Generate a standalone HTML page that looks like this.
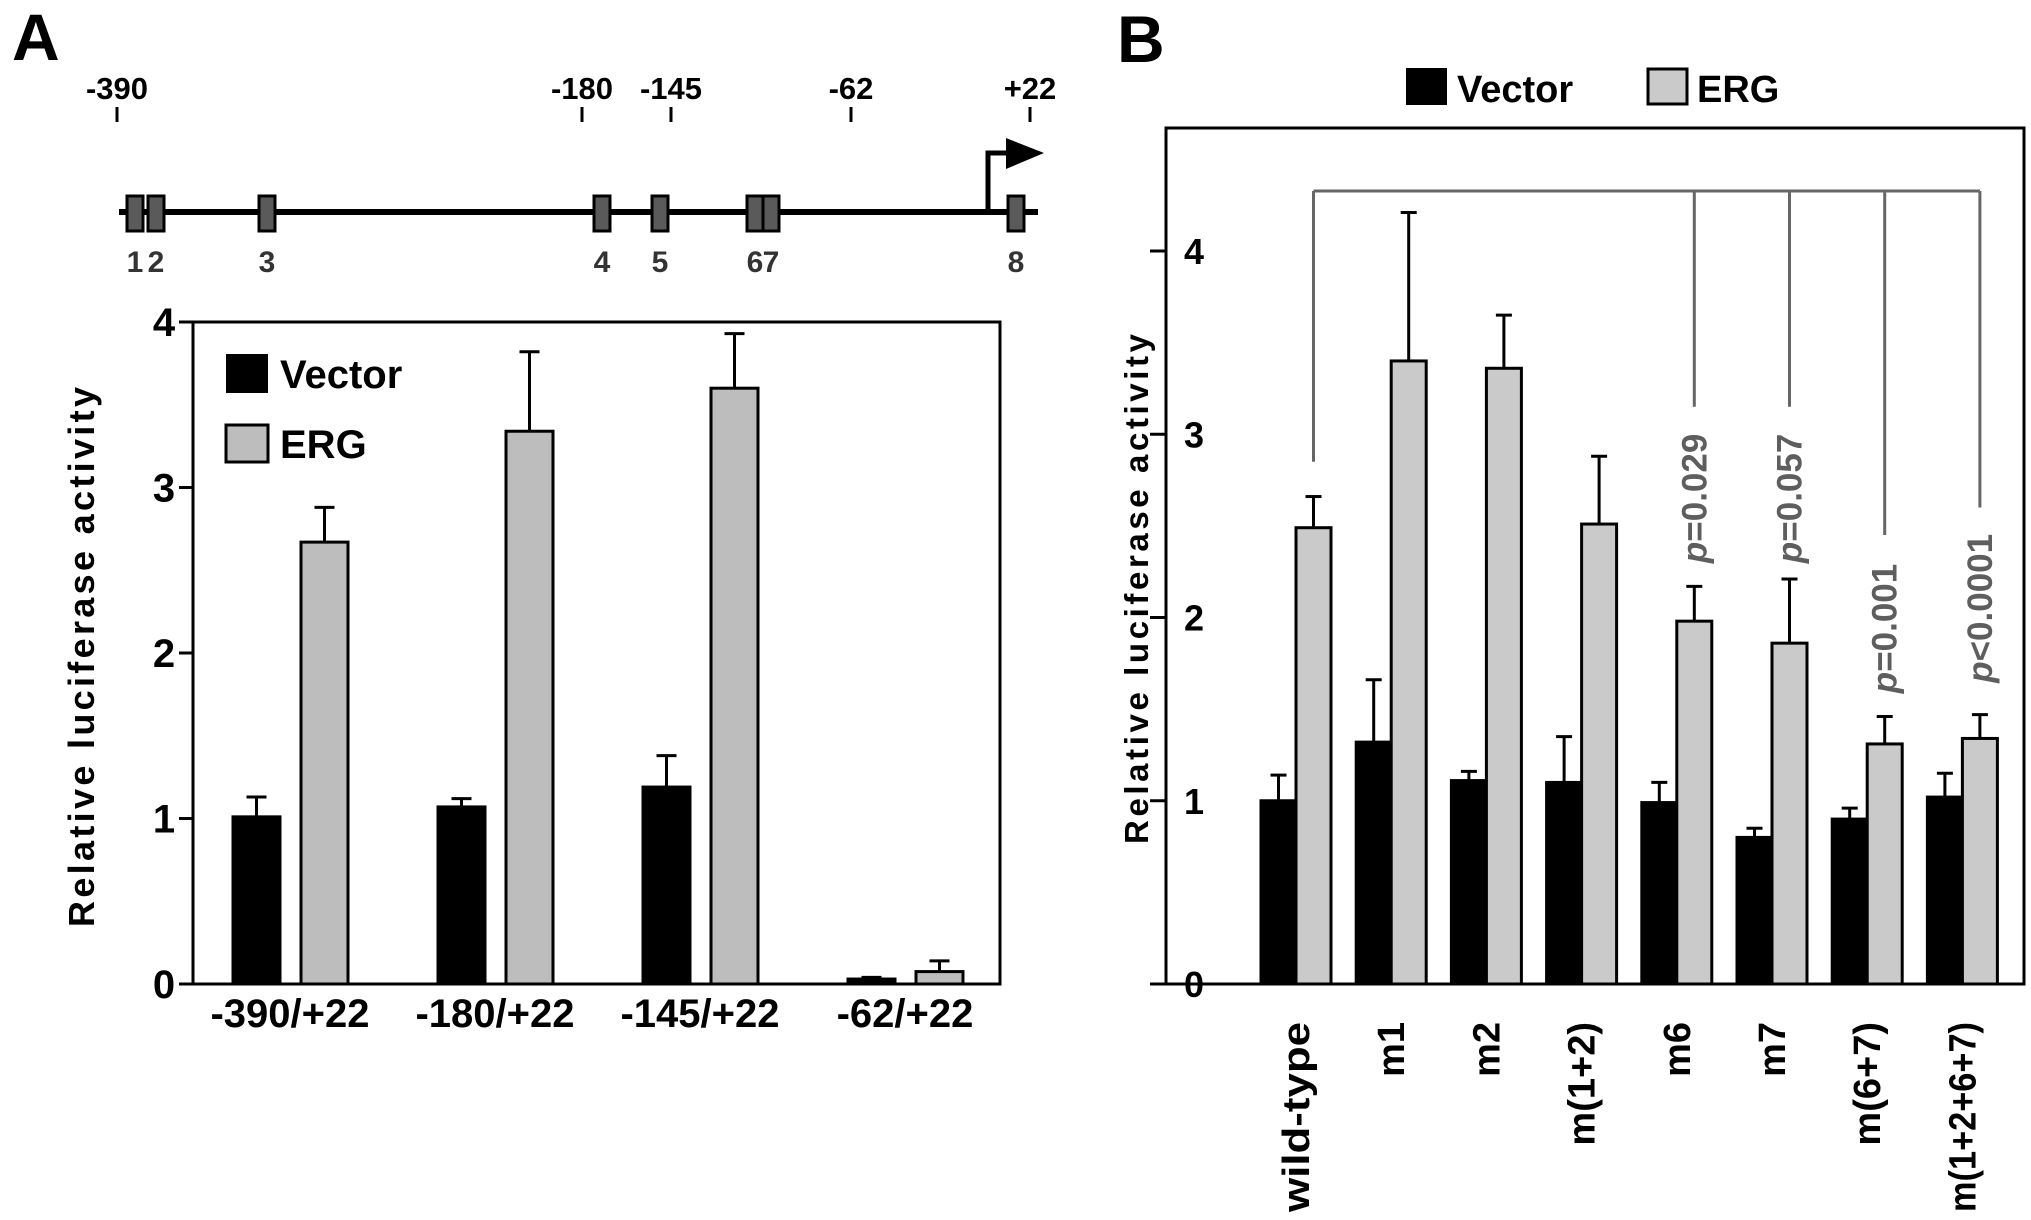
<!DOCTYPE html>
<html><head><meta charset="utf-8"><style>
html,body{margin:0;padding:0;background:#fff;}
svg{display:block;font-family:"Liberation Sans",Arial,sans-serif;font-weight:bold;}
</style></head><body>
<svg id="fig" width="2031" height="1220" viewBox="0 0 2031 1220" xmlns="http://www.w3.org/2000/svg">
<rect x="0" y="0" width="2031" height="1220" fill="#fff"/>
<text x="12" y="60" font-size="66">A</text>
<text x="1117" y="62" font-size="66">B</text>
<g id="genome"></g>
<g id="chartA"></g>
<g id="chartB"></g>
</svg>
<script>
// ---------- Promoter map data ----------
const rulerLabels = ["-390","-180","-145","-62","+22"];
const rulerX = [117,582,671,851,1030];
const siteLabels = ["1","2","3","4","5","6","7","8"];
const siteX = [135,156,267,602,660,755,771,1016];

// ---------- Chart A data ----------
const catsA = ["-390/+22","-180/+22","-145/+22","-62/+22"];
const vecA = [1.01,1.07,1.19,0.03];
const vecErrA = [1.13,1.12,1.38,0.04];
const ergA = [2.67,3.34,3.60,0.075];
const ergErrA = [2.88,3.82,3.93,0.14];
const ticksA = ["0","1","2","3","4"];

// ---------- Chart B data ----------
const catsB = ["wild-type","m1","m2","m(1+2)","m6","m7","m(6+7)","m(1+2+6+7)"];
const vecB = [1.00,1.32,1.11,1.10,0.99,0.80,0.90,1.02];
const vecErrB = [1.14,1.66,1.16,1.35,1.10,0.85,0.96,1.15];
const ergB = [2.49,3.40,3.36,2.51,1.98,1.86,1.31,1.34];
const ergErrB = [2.66,4.21,3.65,2.88,2.17,2.21,1.46,1.47];
const ticksB = ["0","1","2","3","4"];
const pLabels = ["p=0.029","p=0.057","p=0.001","p<0.0001"];
const pIdx = [4,5,6,7];
const pDropEnd = [3.15,3.15,2.45,2.6];
const pTextMid = [2.65,2.65,1.94,2.05];

const NS="http://www.w3.org/2000/svg";
function mk(parent,tag,attrs,text){
  const e=document.createElementNS(NS,tag);
  for(const k in attrs) e.setAttribute(k,attrs[k]);
  if(text!==undefined) e.textContent=text;
  parent.appendChild(e); return e;
}

// ---------- Promoter map ----------
(function(){
  const g=document.getElementById('genome');
  rulerLabels.forEach((l,i)=>{
    const t=mk(g,'text',{x:rulerX[i],y:99,'font-size':31,'text-anchor':'middle'},l);
    
    
    const tk=mk(g,'line',{x1:rulerX[i],x2:rulerX[i],y1:107,y2:122,stroke:'#000','stroke-width':3});
    
    
  });
  const ln=mk(g,'line',{x1:119,x2:1038,y1:212,y2:212,stroke:'#000','stroke-width':6});
  
  
  const ar=mk(g,'path',{d:'M988 212 V153 H1010',fill:'none',stroke:'#000','stroke-width':5});
  
  
  const ah=mk(g,'path',{d:'M1006 138 L1044 153 L1006 169 Z',fill:'#000'});
  
  
  siteX.forEach((x,i)=>{
    const r=mk(g,'rect',{x:x-8,y:196,width:16,height:35,fill:'#5a5a5a',stroke:'#000','stroke-width':3});
    
    
    const t=mk(g,'text',{x:x,y:272,'font-size':30,'text-anchor':'middle',fill:'#333'},siteLabels[i]);
    
    
  });
})();

// ---------- Chart A ----------
(function(){
  const g=document.getElementById('chartA');
  const L=193,R=1000,Y0=984,Y4=322;
  const y=v=>Y0-(Y0-Y4)*v/4;
  const gx=i=>233+205*i;
  const bw=47;
  const fr=mk(g,'rect',{x:L,y:Y4,width:R-L,height:Y0-Y4,fill:'none',stroke:'#000','stroke-width':3});
  
  
  ticksA.forEach((t,i)=>{
    const v=+t;
    const tk=mk(g,'line',{x1:L-14,x2:L,y1:y(v),y2:y(v),stroke:'#000','stroke-width':3});
    
    
    const tl=mk(g,'text',{x:164,y:y(v)+14,'font-size':40,'text-anchor':'middle'},t);
    
    
  });
  const yt=mk(g,'text',{x:0,y:0,'font-size':36,'text-anchor':'middle',transform:'translate(94,657) rotate(-90)',textLength:540,lengthAdjust:'spacing'},'Relative  luciferase  activity');
  
  
  catsA.forEach((c,i)=>{
    const vx=gx(i), ex=gx(i)+68;
    [[vx,vecA[i],vecErrA[i],'#000','bar-vector'],[ex,ergA[i],ergErrA[i],'#bdbdbd','bar-erg']].forEach(b=>{
      const cx=b[0]+bw/2;
      const el=mk(g,'line',{x1:cx,x2:cx,y1:y(b[1]),y2:y(b[2]),stroke:'#000','stroke-width':3});
      
      
      const ec=mk(g,'line',{x1:cx-10,x2:cx+10,y1:y(b[2]),y2:y(b[2]),stroke:'#000','stroke-width':3});
      
      
      const r=mk(g,'rect',{x:b[0],y:y(b[1]),width:bw,height:Y0-y(b[1]),fill:b[3],stroke:'#000','stroke-width':3});
      
      
    });
    const t=mk(g,'text',{x:gx(i)+57,y:1027,'font-size':40,'text-anchor':'middle'},c);
    
    
  });
  const lv=mk(g,'rect',{x:226,y:354,width:42,height:39,fill:'#000'});
  
  
  const lvt=mk(g,'text',{x:280,y:388,'font-size':40},'Vector');
  
  
  const le=mk(g,'rect',{x:226,y:425,width:42,height:37,fill:'#bdbdbd',stroke:'#000','stroke-width':3});
  
  
  const let_=mk(g,'text',{x:280,y:458,'font-size':40},'ERG');
  
  
})();

// ---------- Chart B ----------
(function(){
  const g=document.getElementById('chartB');
  const L=1166,R=2024,T=128,Y0=984,Y4=251;
  const y=v=>Y0-(Y0-Y4)*v/4;
  const cx=i=>1296+95.2*i;
  const bw=35;
  const fr=mk(g,'rect',{x:L,y:T,width:R-L,height:Y0-T,fill:'none',stroke:'#000','stroke-width':3});
  
  
  ticksB.forEach(t=>{
    const v=+t;
    const tk=mk(g,'line',{x1:L-16,x2:L,y1:y(v),y2:y(v),stroke:'#000','stroke-width':3});
    
    
    const tl=mk(g,'text',{x:1194,y:y(v)+13,'font-size':36,'text-anchor':'middle'},t);
    
    
  });
  const yt=mk(g,'text',{x:0,y:0,'font-size':33,'text-anchor':'middle',transform:'translate(1148,589) rotate(-90)',textLength:510,lengthAdjust:'spacing'},'Relative  luciferase  activity');
  
  
  catsB.forEach((c,i)=>{
    const c0=cx(i);
    [[c0-bw,vecB[i],vecErrB[i],'#000','bar-vector'],[c0,ergB[i],ergErrB[i],'#cacaca','bar-erg']].forEach(b=>{
      const mx=b[0]+bw/2;
      const el=mk(g,'line',{x1:mx,x2:mx,y1:y(b[1]),y2:y(b[2]),stroke:'#000','stroke-width':3});
      
      
      const ec=mk(g,'line',{x1:mx-8,x2:mx+8,y1:y(b[2]),y2:y(b[2]),stroke:'#000','stroke-width':3});
      
      
      const r=mk(g,'rect',{x:b[0],y:y(b[1]),width:bw,height:Y0-y(b[1]),fill:b[3],stroke:'#000','stroke-width':3});
      
      
    });
    const attrs={x:0,y:0,'font-size':38,'text-anchor':'end',transform:'translate('+(c0+13)+',1022) rotate(-90)'};
    if(c.length>8){attrs.textLength=190;attrs.lengthAdjust='spacingAndGlyphs';}
    const t=mk(g,'text',attrs,c);
    
    
  });
  const ergC=i=>cx(i)+bw/2;
  const topY=191;
  const hb=mk(g,'line',{x1:ergC(0),x2:ergC(7),y1:topY,y2:topY,stroke:'#666','stroke-width':3});
  
  
  const d0=mk(g,'line',{x1:ergC(0),x2:ergC(0),y1:topY,y2:y(2.85),stroke:'#666','stroke-width':3});
  
  
  pIdx.forEach((k,j)=>{
    const d=mk(g,'line',{x1:ergC(k),x2:ergC(k),y1:topY,y2:y(pDropEnd[j]),stroke:'#666','stroke-width':3});
    
    
    const t=mk(g,'text',{x:0,y:0,'font-size':35,'text-anchor':'middle',fill:'#5e5e5e',transform:'translate('+(ergC(k)+12)+','+y(pTextMid[j])+') rotate(-90)'});
    
    
    const ts=mk(t,'tspan',{'font-style':'italic'},'p');
    
    
    const ts2=mk(t,'tspan',{},pLabels[j].slice(1));
    
    
  });
  const lv=mk(g,'rect',{x:1406,y:68,width:41,height:37,fill:'#000'});
  
  
  const lvt=mk(g,'text',{x:1457,y:102,'font-size':38},'Vector');
  
  
  const le=mk(g,'rect',{x:1648,y:69,width:39,height:35,fill:'#cacaca',stroke:'#000','stroke-width':3});
  
  
  const let_=mk(g,'text',{x:1697,y:102,'font-size':38},'ERG');
  
  
})();
</script>
</body></html>
